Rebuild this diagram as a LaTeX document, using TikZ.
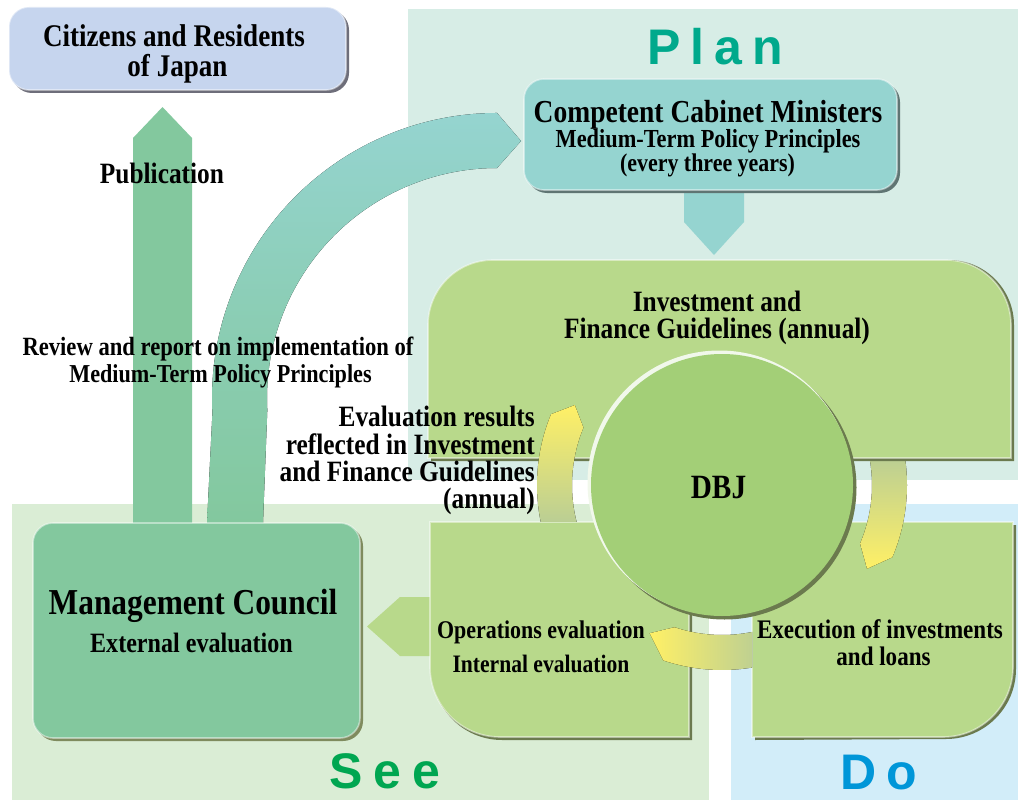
\documentclass[tikz,border=0pt]{standalone}
\usepackage{fontspec}
\setmainfont{Liberation Serif}[FakeStretch=0.86]
\newfontfamily\sansbold{Liberation Sans}
\definecolor{planbg}{HTML}{D7EDE6}
\definecolor{seebg}{HTML}{DAEDD5}
\definecolor{dobg}{HTML}{D2EDF9}
\definecolor{citfill}{HTML}{C6D5EE}
\definecolor{citshadow}{HTML}{6E6E7A}
\definecolor{compfill}{HTML}{95D4D0}
\definecolor{compshadow}{HTML}{5F7573}
\definecolor{mgfill}{HTML}{83C89E}
\definecolor{mgshadow}{HTML}{7F8B5E}
\definecolor{boxgreen}{HTML}{B8D98B}
\definecolor{boxshadow}{HTML}{6B7A4E}
\definecolor{dbjfill}{HTML}{A3CF77}
\definecolor{yel}{HTML}{FFF066}
\definecolor{gg}{HTML}{B4CB98}
\definecolor{plantxt}{HTML}{00A98C}
\definecolor{seetxt}{HTML}{00A651}
\definecolor{dotxt}{HTML}{0096D8}
\newcommand\fsz[1]{\fontsize{#1}{#1}\selectfont\bfseries}
\begin{document}
\begin{tikzpicture}[x=1pt,y=-1pt,
  lbl/.style={inner sep=0pt, anchor=base, text=black},
  bigword/.style={inner sep=0pt, anchor=base west, font=\sansbold\bfseries\fontsize{50}{50}\selectfont},
  rim/.style={draw=white, draw opacity=0.45, line width=1.6pt}]
\useasboundingbox (0,0) rectangle (1018,800);
% background regions
\fill[planbg] (408,9) rectangle (1018,480);
\fill[seebg] (12,504) rectangle (709,800);
\fill[dobg] (731,504) rectangle (1018,800);

% Citizens box
\fill[citshadow, rounded corners=20pt] (12,10) rectangle (349,93);
\fill[citfill, rounded corners=20pt, rim] (9,7) rectangle (346,90);

% Publication arrow
\fill[mgfill] (133,523) -- (133,138) -- (162.5,107) -- (192,138) -- (192,523) -- cycle;

% big curved arrow
\fill[bottom color=mgfill, top color=compfill, middle color=mgfill!55!compfill]
  (207,523) -- (212.4,412.9) arc[start angle=177, end angle=270, radius=285]
  -- (521,141) -- (497,168) arc[start angle=270, end angle=177, radius=230]
  -- (263,523) -- cycle;

% down arrow from Competent box
\fill[compfill] (684,185) -- (684,222) -- (714,255) -- (744,222) -- (744,185) -- cycle;
% Competent box
\fill[compshadow, rounded corners=20pt] (527,82) rectangle (900,193);
\fill[compfill, rounded corners=20pt, rim] (524,79) rectangle (897,190);

% Management box
\fill[mgshadow, rounded corners=20pt] (36,526) rectangle (363,741);
\fill[mgfill, rounded corners=20pt, rim] (33,523) rectangle (360,738);

% arrow Operations -> Management
\fill[boxgreen] (435,597) -- (400,597) -- (367,626.5) -- (400,656) -- (435,656) -- cycle;

% bottom-left box
\fill[boxshadow] (430,525) -- (692,525) -- (692,740) -- (502,740)
  arc[start angle=90, end angle=180, radius=70] -- cycle;
\fill[boxgreen, rim] (430,522) -- (689,522) -- (689,737) -- (500,737)
  arc[start angle=90, end angle=180, radius=70] -- cycle;
% bottom-right box
\fill[boxshadow] (755,525) -- (1016,525) -- (1016,669) arc[start angle=0, end angle=90, radius=70]
  -- (755,740) -- cycle;
\fill[boxgreen, rim] (752,522) -- (1013,522) -- (1013,667) arc[start angle=0, end angle=90, radius=70]
  -- (752,737) -- cycle;

% right yellow arrow (behind top box)
\begin{scope}
\clip (800,458) rectangle (1000,700);
\fill[shift={(722,485)}, top color=gg, bottom color=yel, middle color=gg!50!yel]
  (-12:185) arc[start angle=-12, end angle=23, radius=185] -- (30:167.5)
  -- (23:150) arc[start angle=23, end angle=-12, radius=150] -- cycle;
\end{scope}

% top box
\fill[boxshadow] (431,461) -- (431,325) arc[start angle=180, end angle=270, radius=65]
  -- (949,260) arc[start angle=270, end angle=360, radius=65] -- (1014,461) -- cycle;
\fill[boxgreen, rim] (428,458) -- (428,325) arc[start angle=180, end angle=270, radius=65]
  -- (946,260) arc[start angle=270, end angle=360, radius=65] -- (1011,458) -- cycle;

% left yellow arrow
\begin{scope}
\clip (450,350) rectangle (700,521);
\fill[shift={(722,485)}, top color=yel, bottom color=gg]
  (165:185) arc[start angle=165, end angle=202.5, radius=185] -- (208.5:167.5)
  -- (202.5:150) arc[start angle=202.5, end angle=165, radius=150] -- cycle;
\end{scope}
% bottom yellow arrow
\begin{scope}
\clip (600,580) rectangle (752,700);
\fill[shift={(722,485)}, left color=yel, right color=gg]
  (75:185) arc[start angle=75, end angle=108.5, radius=185] -- (116:165)
  -- (108.5:150) arc[start angle=108.5, end angle=75, radius=150] -- cycle;
\end{scope}

% DBJ circle
\fill[boxshadow] (724.5,487.5) circle[radius=132];
\fill[white!85!dbjfill] (719.5,482.5) circle[radius=132];
\fill[dbjfill] (722,485) circle[radius=131];

% texts
\node[lbl, font=\fsz{31.5}] (cit1) at (174,47) {Citizens and Residents};
\node[lbl, font=\fsz{31.5}] (cit2) at (177.5,77) {of Japan};
\node[lbl, font=\fsz{29.5}] (pub) at (162,183) {Publication};
\node[lbl, font=\fsz{32}] (comp1) at (708,122) {Competent Cabinet Ministers};
\node[lbl, font=\fsz{26}] (comp2) at (708,147) {Medium-Term Policy Principles};
\node[lbl, font=\fsz{25.5}] (comp3) at (707.5,171) {(every three years)};
\node[lbl, font=\fsz{26.3}] (rev1) at (218,355) {Review and report on implementation of};
\node[lbl, font=\fsz{25.8}] (rev2) at (220.5,382) {Medium-Term Policy Principles};
\node[inner sep=0pt, anchor=north east, align=right,
  font=\fontsize{29.5}{27.1}\selectfont\bfseries] (ev) at (535,406.3)
  {Evaluation results\\reflected in Investment\\and Finance Guidelines\\(annual)};
\node[inner sep=0pt, anchor=north, align=center,
  font=\fontsize{29.5}{27.3}\selectfont\bfseries] (inv) at (717,291)
  {Investment and\\Finance Guidelines (annual)};
\node[lbl, font=\fsz{34}] (dbj) at (718.5,498) {DBJ};
\node[lbl, font=\fsz{36.5}] (mg1) at (193,614) {Management Council};
\node[lbl, font=\fsz{28}] (mg2) at (191.5,652) {External evaluation};
\node[lbl, font=\fsz{25.5}] (op1) at (541,638) {Operations evaluation};
\node[lbl, font=\fsz{25.1}] (op2) at (541,672) {Internal evaluation};
\node[lbl, font=\fsz{26.8}] (ex1) at (880,638) {Execution of investments};
\node[lbl, font=\fsz{26.8}] (ex2) at (883.5,665) {and loans};
\node[bigword, text=plantxt] (plan) at (647,65) {P\kern10pt l\kern10pt a\kern10pt n};
\node[bigword, text=seetxt] (see) at (329,788) {S\kern11pt e\kern11pt e};
\node[bigword, text=dotxt] (do) at (840,789) {D\kern10pt o};
\end{tikzpicture}
\end{document}
